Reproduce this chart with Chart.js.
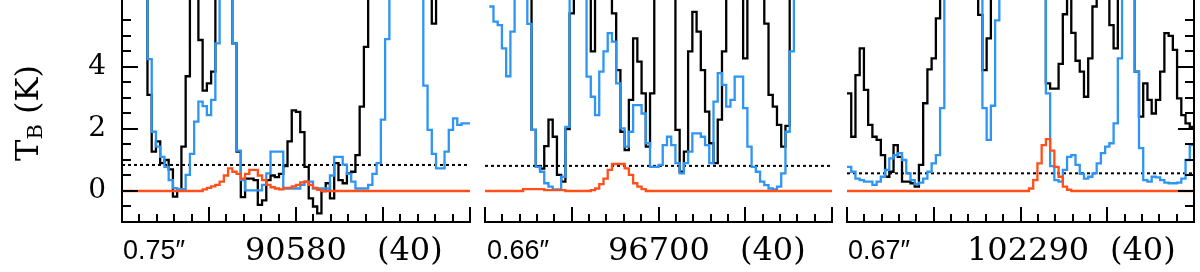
<!DOCTYPE html>
<html>
<head>
<meta charset="utf-8">
<script src="https://cdn.jsdelivr.net/npm/chart.js@4.4.1/dist/chart.umd.min.js"></script>
<style>
  html, body { margin: 0; padding: 0; background: #fff; }
  #wrap { position: relative; width: 1200px; height: 272px; overflow: hidden; background: #fff; }
  canvas { position: absolute; top: 0; }
  .lbl { position: absolute; line-height: 1; white-space: nowrap; color: #000; }
  .beam { font-family: 'Liberation Sans', Arial, sans-serif; font-size: 27px; top: 237px; }
  .freq { font-family: 'DejaVu Serif', serif; font-size: 32px; top: 233px; }
  #ytitle { left: -73px; top: 93px; width: 200px; height: 40px; line-height: 40px; text-align: center;
            font-family: 'DejaVu Serif', serif; font-size: 32px; transform: rotate(-90deg); }
  #ytitle span { font-size: 21px; position: relative; top: 4px; }
</style>
</head>
<body>
<div id="wrap">
  <canvas id="p1" width="480" height="272" style="left:0px"></canvas>
  <canvas id="p2" width="370" height="272" style="left:475px"></canvas>
  <canvas id="p3" width="363" height="272" style="left:837px"></canvas>
  <div class="lbl" id="ytitle">T<span>B</span> (K)</div>
</div>
<script>
// ---- data: 82 channels per panel, T_B in K (9 = off the top of the plot) ----
const beamSizes = ['0.75″', '0.66″', '0.67″'];
const frequencies = ['90580', '96700', '102290'];
const upperEnergies = ['(40)', '(40)', '(40)'];
const rmsLevels = [0.84, 0.81, 0.57];
const yTickLabels = [0, 2, 4];

const p1Black = [null, null, null, null, null, 9, 3.1, 1.27, 1.6, 0.9,
  1.0, 0.7, -0.18, 0.05, 1.43, 3.7, 9, 9, 4.87, 3.24,
  3.47, 3.85, 9, 9, 9, 9, 4.76, 1.27, -0.2, 0.4,
  0.4, 0.35, -0.45, -0.3, 0.35, 0.5, 0.45, 0.55, 0.8, 1.6,
  2.6, 2.55, 1.9, 0.78, -0.24, -0.5, -0.72, 0.0, 0.25, -0.24,
  0.9, 0.35, 0.25, 0.57, 0.62, 1.16, 2.72, 4.65, 9, 9,
  9, 9, 9, 9, 9, 9, 9, 9, 9, 9,
  9, 9, 9, 5.4, 9, null, null, null, null, null,
  null, null];
const p1Blue = [null, null, null, null, null, 9, 4.25, 1.91, 1.43, 1.1,
  0.78, 0.35, 0.09, 0.06, 0.06, 0.52, 1.2, 2.24, 2.88, 2.74,
  2.45, 2.94, 4.76, 9, 9, 9, 4.76, 1.3, 0.35, 0.02,
  0.02, 0.02, 0.02, 0.2, 0.57, 1.27, 1.27, 1.27, 0.08, 0.08,
  0.08, 0.08, 0.2, 0.3, 0.3, 0.08, 0.08, 0.08, 0.08, 0.5,
  1.1, 1.1, 0.85, 0.55, 0.3, 0.08, 0.08, 0.08, 0.2, 0.55,
  0.9, 2.3, 4.9, 9, 9, 9, 9, 9, 9, 9,
  9, 3.4, 1.97, 1.2, 0.73, 0.73, 1.27, 1.97, 2.34, 2.13,
  2.18, 2.18];
const p1Model = [0, 0, 0, 0, 0, 0, 0, 0, 0, 0,
  0, 0, 0, 0, 0, 0, 0, 0, 0, 0.05,
  0.1, 0.15, 0.2, 0.3, 0.5, 0.73, 0.62, 0.55, 0.4, 0.55,
  0.68, 0.68, 0.5, 0.35, 0.2, 0.12, 0.08, 0.05, 0.1, 0.1,
  0.15, 0.2, 0.28, 0.3, 0.2, 0.1, 0.04, 0, 0, 0,
  0, 0, 0, 0, 0, 0, 0, 0, 0, 0,
  0, 0, 0, 0, 0, 0, 0, 0, 0, 0,
  0, 0, 0, 0, 0, 0, 0, 0, 0, 0,
  0, 0];

const p2Black = [null, null, null, null, null, null, null, null, null, null,
  9, 1.97, 0.8, 0.72, 1.45, 2.3, 1.75, 0.52, 0.3, 2.0,
  5.73, 9, 9, 9, 9, 4.5, 9, 9, 9, 9,
  5.73, 3.9, 1.91, 1.32, 2.94, 4.92, 4.17, 3.15, 1.43, 3.15,
  9, 9, 9, 9, 9, 1.97, 0.62, 1.27, 4.5, 5.78,
  5.14, 3.9, 2.56, 1.54, 0.9, 2.3, 4.5, 9, 9, 9,
  9, 4.28, 9, 9, 9, 9, 5.4, 3.1, 2.72, 2.13,
  1.43, 2.1, 9, null, null, null, null, null, null, null,
  null, null];
const p2Blue = [null, 5.95, 5.46, 5.35, 4.6, 3.7, 5.14, 9, 9, 9,
  5.39, 1.97, 0.78, 0.62, 0.25, 0.14, 0.05, 0.05, 0.46, 2.07,
  9, 9, 9, 9, 3.69, 3.04, 2.45, 3.85, 4.5, 5.09,
  4.82, 3.47, 2.02, 1.43, 1.91, 2.77, 2.77, 2.5, 1.54, 0.78,
  0.78, 0.84, 1.48, 1.75, 1.48, 0.9, 0.57, 0.9, 1.27, 1.86,
  1.86, 1.75, 1.48, 0.9, 2.88, 3.8, 3.42, 2.72, 2.94, 3.69,
  3.69, 2.67, 1.43, 0.78, 0.62, 0.3, 0.19, 0.08, 0.05, 0.14,
  0.57, 1.91, 4.5, 9, null, null, null, null, null, null,
  null, null];
const p2Model = [0, 0, 0, 0, 0, 0, 0, 0, 0, 0.06,
  0.06, 0.06, 0.06, 0.06, 0.03, 0.03, 0.03, 0.03, 0.03, 0,
  0, 0, 0, 0, 0, 0.03, 0.08, 0.22, 0.4, 0.68,
  0.87, 0.87, 0.87, 0.73, 0.52, 0.25, 0.14, 0.06, 0, 0,
  0, 0, 0, 0, 0, 0, 0, 0, 0, 0,
  0, 0, 0, 0, 0, 0, 0, 0, 0, 0,
  0, 0, 0, 0, 0, 0, 0, 0, 0, 0,
  0, 0, 0, 0, 0, 0, 0, 0, 0, 0,
  0, 0];

const p3Black = [3.15, 1.75, 3.74, 4.6, 3.26, 2.13, 1.75, 1.65, 1.16, 0.46,
  0.62, 1.48, 1.1, 0.3, 0.3, 0.25, 0.14, 0.84, 2.83, 3.92,
  4.28, 5.57, 9, 9, 9, 9, 9, 9, 9, 9,
  9, 5.68, 3.9, 4.92, 9, 9, 9, 9, 9, 9,
  9, 9, 9, 9, 9, 9, 9, 3.47, 3.3, 3.3,
  4.1, 5.7, 9, 5.1, 4.2, 3.85, 3.04, 4.28, 5.95, 9,
  9, 9, 5.35, 4.6, 9, 9, 9, 9, 3.85, 2.4,
  3.47, 2.94, 2.5, 2.94, 3.85, 5.09, 5.0, 4.55, 2.99, 2.45,
  2.18, 2.07];
const p3Blue = [0.78, 0.62, 0.4, 0.35, 0.3, 0.3, 0.2, 0.3, 0.46, 0.68,
  1.05, 1.16, 1.22, 1.0, 0.57, 0.35, 0.22, 0.27, 0.4, 0.62,
  0.89, 1.16, 2.67, 9, 9, 9, 9, 9, 9, 9,
  9, 9, 2.67, 1.65, 2.75, 5.5, 9, 9, 9, 9,
  9, 9, 9, 9, 9, 9, 9, 3.15, 0.8, 0.35,
  0.3, 0.68, 1.1, 1.16, 0.84, 0.55, 0.4, 0.46, 0.57, 0.89,
  1.22, 1.43, 1.54, 2.18, 4.28, 9, 9, 9, 3.85, 1.38,
  0.35, 0.3, 0.46, 0.44, 0.35, 0.27, 0.25, 0.25, 0.27, 0.4,
  1.0, 1.48];
const p3Model = [0, 0, 0, 0, 0, 0, 0, 0, 0, 0,
  0, 0, 0, 0, 0, 0, 0, 0, 0, 0,
  0, 0, 0, 0, 0, 0, 0, 0, 0, 0,
  0, 0, 0, 0, 0, 0, 0, 0, 0, 0,
  0, 0, 0, 0.08, 0.35, 0.89, 1.48, 1.67, 1.3, 0.78,
  0.46, 0.14, 0.04, 0, 0, 0, 0, 0, 0, 0,
  0, 0, 0, 0, 0, 0, 0, 0, 0, 0,
  0, 0, 0, 0, 0, 0, 0, 0, 0, 0,
  0, 0];

// ---- layout ----
const X_MAX = 20;                 // panel x range (offset units)
const CH = X_MAX / 82;            // channel width
const Y_MIN = -1, Y_MAX = 6.16;

// histogram points: left edge of each channel, closed at the right edge before a gap
function steps(vals) {
  const pts = [];
  vals.forEach((v, i) => {
    if (v === null) { pts.push({ x: (i + 0.5) * CH, y: null }); return; }
    pts.push({ x: i * CH, y: v });
    if (i === vals.length - 1 || vals[i + 1] === null) pts.push({ x: (i + 1) * CH, y: v });
  });
  return pts;
}

function stepSet(vals, color) {
  return { data: steps(vals), borderColor: color, borderWidth: 2.3, stepped: 'before',
           pointRadius: 0, fill: false, spanGaps: false };
}

// axis frame with inward ticks
const frame = {
  id: 'frame',
  afterDatasetsDraw(chart, args, o) {
    const { ctx, chartArea: a, scales: { x, y } } = chart;
    ctx.save();
    ctx.strokeStyle = '#000';
    ctx.lineWidth = 2;
    ctx.lineCap = 'butt';
    ctx.beginPath();
    ctx.moveTo(a.left - 1, a.bottom);
    ctx.lineTo(a.right + 1, a.bottom);
    for (let u = 0; u <= X_MAX; u++) {
      const px = Math.round(x.getPixelForValue(u));
      const len = u % 5 === 0 ? 15 : 8;
      ctx.moveTo(px, a.bottom);
      ctx.lineTo(px, a.bottom - len);
    }
    if (o.side) {
      const ax = o.side === 'left' ? a.left : a.right;
      const dir = o.side === 'left' ? 1 : -1;
      ctx.moveTo(ax, 0);
      ctx.lineTo(ax, a.bottom);
      for (let t = -0.5; t <= 5.5; t += 0.5) {
        const py = Math.round(y.getPixelForValue(t));
        const len = t % 2 === 0 ? 16 : 9;
        ctx.moveTo(ax, py);
        ctx.lineTo(ax + dir * len, py);
      }
    }
    ctx.stroke();
    ctx.restore();
  }
};

const panels = [
  { id: 'p1', padL: 0, padR: 10, side: 'left', black: p1Black, blue: p1Blue, model: p1Model,
    beamLeft: 123, freqLeft: 245, euLeft: 377 },
  { id: 'p2', padL: 10, padR: 13, side: null, black: p2Black, blue: p2Blue, model: p2Model,
    beamLeft: 487, freqLeft: 608, euLeft: 740 },
  { id: 'p3', padL: 10, padR: 6, side: 'right', black: p3Black, blue: p3Blue, model: p3Model,
    beamLeft: 848, freqLeft: 967, euLeft: 1110 }
];

const wrap = document.getElementById('wrap');
function addLabel(cls, text, left) {
  const d = document.createElement('div');
  d.className = 'lbl ' + cls;
  d.textContent = text;
  d.style.left = left + 'px';
  wrap.appendChild(d);
}

panels.forEach((p, k) => {
  const showY = k === 0;
  const yScale = {
    type: 'linear', min: Y_MIN, max: Y_MAX, display: showY, position: 'left',
    grid: { display: false, drawTicks: false },
    border: { display: false },
    afterBuildTicks: s => { s.ticks = yTickLabels.map(v => ({ value: v })); },
    ticks: { color: '#000', padding: 16, font: { family: 'DejaVu Serif', size: 28 } }
  };
  if (showY) {
    yScale.afterFit = s => {
      s.width = 122;
      s.paddingTop = 0;
      s.paddingBottom = 0;
    };
  }
  new Chart(document.getElementById(p.id), {
    type: 'line',
    data: {
      datasets: [
        stepSet(p.model, '#ff4f1a'),
        stepSet(p.blue, '#2e95f2'),
        stepSet(p.black, '#000000'),
        { data: [{ x: 0, y: rmsLevels[k] }, { x: X_MAX, y: rmsLevels[k] }],
          borderColor: '#000', borderWidth: 2, borderDash: [3, 3], pointRadius: 0, fill: false }
      ]
    },
    options: {
      responsive: false,
      animation: false,
      events: [],
      layout: { padding: { top: 0, bottom: 50, left: p.padL, right: p.padR } },
      plugins: { legend: { display: false }, tooltip: { enabled: false }, frame: { side: p.side } },
      scales: {
        x: { type: 'linear', min: 0, max: X_MAX, display: false },
        y: yScale
      }
    },
    plugins: [frame]
  });
  addLabel('beam', beamSizes[k], p.beamLeft);
  addLabel('freq', frequencies[k], p.freqLeft);
  addLabel('freq', upperEnergies[k], p.euLeft);
});
</script>
</body>
</html>
